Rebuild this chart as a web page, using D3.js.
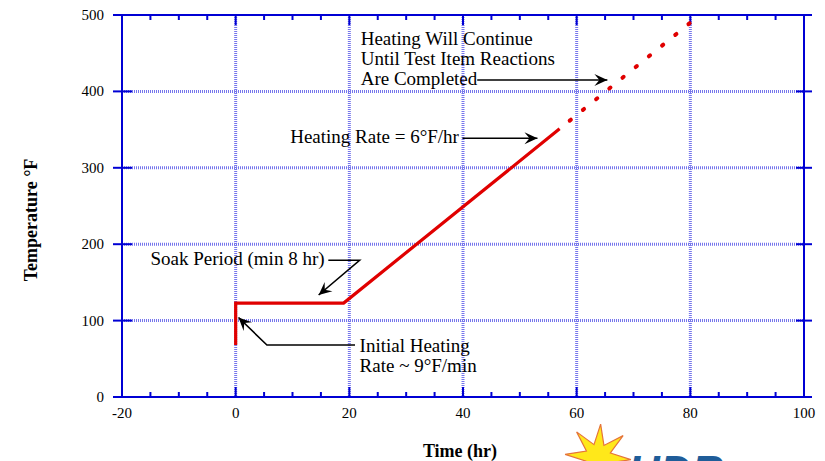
<!DOCTYPE html>
<html>
<head>
<meta charset="utf-8">
<script src="https://cdn.jsdelivr.net/npm/d3@7"></script>
<style>
  body { margin: 0; background: #fff; }
  svg { display: block; }
</style>
</head>
<body>
<div id="chart"></div>
<script>
// Heating profile (time in hr, temperature in °F)
const solidTime = [0, 0, 19, 57]
const solidTemp = [68, 123, 123, 351]
const dottedTime = [57, 80]
const dottedTemp = [351, 490]

const xTicks = [-20, 0, 20, 40, 60, 80, 100]
const xMinorTicks = d3.range(-20, 101, 5)
const yTicks = [0, 100, 200, 300, 400, 500]

// Callout text, anchored at (time, temp) of the first baseline
const noteLines = [
  ["Heating Will Continue", "Until Test Item Reactions", "Are Completed"],
  ["Heating Rate = 6°F/hr"],
  ["Soak Period (min 8 hr)"],
  ["Initial Heating", "Rate ~ 9°F/min"]
]
const noteTime = [22, 9.6, -15, 21.8]
const noteTemp = [460.7, 332.5, 172.8, 58.9]

// Arrow polylines (time, temp), last point is the arrow tip
const arrowTime = [[42.5, 65.4], [39.9, 53.1], [16.3, 21.8, 14.6], [21.0, 5.5, 0.5]]
const arrowTemp = [[415, 415], [338.6, 338.6], [179, 179, 133.5], [68, 68, 104]]

const width = 825
const height = 461
const margin = { top: 15, right: 21, bottom: 64, left: 122 }
const blue = "#0000d4"
const gridBlue = "#7676ec"
const red = "#e00000"
const serif = "'Liberation Serif', 'Times New Roman', serif"

const svg = d3.select("#chart")
  .append("svg")
  .attr("width", width)
  .attr("height", height)

const x = d3.scaleLinear()
  .domain([-20, 100])
  .range([margin.left, width - margin.right])

const y = d3.scaleLinear()
  .domain([0, 500])
  .range([height - margin.bottom, margin.top])

const [x0, x1] = x.range()
const [y0, y1] = y.range()

// Grid lines
svg.append("g")
  .selectAll("line")
  .data(xTicks.slice(1, -1))
  .join("line")
  .attr("x1", d => x(d))
  .attr("x2", d => x(d))
  .attr("y1", y1)
  .attr("y2", y0)
  .attr("stroke", gridBlue)
  .attr("stroke-width", 3)
  .attr("stroke-dasharray", "1,1")

svg.append("g")
  .selectAll("line")
  .data(yTicks.slice(1, -1))
  .join("line")
  .attr("x1", x0)
  .attr("x2", x1)
  .attr("y1", d => y(d))
  .attr("y2", d => y(d))
  .attr("stroke", gridBlue)
  .attr("stroke-width", 3)
  .attr("stroke-dasharray", "1,1")

// Frame
svg.append("rect")
  .attr("x", x0)
  .attr("y", y1)
  .attr("width", x1 - x0)
  .attr("height", y0 - y1)
  .attr("fill", "none")
  .attr("stroke", blue)
  .attr("stroke-width", 2)

// x ticks, inward from top and bottom
const ticks = svg.append("g").attr("stroke", blue).attr("stroke-width", 2)
xMinorTicks.forEach(t => {
  const len = xTicks.includes(t) ? 10 : 5
  ticks.append("line")
    .attr("x1", x(t)).attr("x2", x(t))
    .attr("y1", y0).attr("y2", y0 - len)
  ticks.append("line")
    .attr("x1", x(t)).attr("x2", x(t))
    .attr("y1", y1).attr("y2", y1 + len)
})

// y ticks cross the left and right frame
yTicks.forEach(v => {
  ticks.append("line")
    .attr("x1", x0 - 9).attr("x2", x0 + 10)
    .attr("y1", y(v)).attr("y2", y(v))
  ticks.append("line")
    .attr("x1", x1 - 8).attr("x2", x1 + 8)
    .attr("y1", y(v)).attr("y2", y(v))
})

// Tick labels
svg.append("g")
  .selectAll("text")
  .data(xTicks)
  .join("text")
  .attr("x", d => x(d))
  .attr("y", y0 + 21)
  .attr("text-anchor", "middle")
  .attr("font-family", serif)
  .attr("font-size", "15px")
  .text(d => d)

svg.append("g")
  .selectAll("text")
  .data(yTicks)
  .join("text")
  .attr("x", x0 - 18)
  .attr("y", d => y(d) + 5)
  .attr("text-anchor", "end")
  .attr("font-family", serif)
  .attr("font-size", "15px")
  .text(d => d)

// Axis titles
svg.append("text")
  .attr("x", 460)
  .attr("y", 457)
  .attr("text-anchor", "middle")
  .attr("font-family", serif)
  .attr("font-weight", "bold")
  .attr("font-size", "18px")
  .text("Time (hr)")

svg.append("text")
  .attr("transform", "translate(37,220) rotate(-90)")
  .attr("text-anchor", "middle")
  .attr("font-family", serif)
  .attr("font-weight", "bold")
  .attr("font-size", "18px")
  .text("Temperature °F")

// Heating profile
const line = d3.line()
  .x(d => x(d[0]))
  .y(d => y(d[1]))

svg.append("path")
  .datum(d3.zip(solidTime, solidTemp))
  .attr("fill", "none")
  .attr("stroke", red)
  .attr("stroke-width", 3.2)
  .attr("d", line)

svg.append("path")
  .datum(d3.zip(dottedTime, dottedTemp))
  .attr("fill", "none")
  .attr("stroke", red)
  .attr("stroke-width", 4)
  .attr("stroke-linecap", "round")
  .attr("stroke-dasharray", "1.5,15.5")
  .attr("stroke-dashoffset", -13)
  .attr("d", line)

// Arrowhead
svg.append("defs")
  .append("marker")
  .attr("id", "arrow")
  .attr("viewBox", "-14 -7 16 14")
  .attr("markerUnits", "userSpaceOnUse")
  .attr("markerWidth", 16)
  .attr("markerHeight", 14)
  .attr("orient", "auto")
  .append("path")
  .attr("d", "M0,0 L-13,-6 L-8,0 L-13,6 Z")
  .attr("fill", "#000")

arrowTime.forEach((ts, i) => {
  svg.append("path")
    .datum(d3.zip(ts, arrowTemp[i]))
    .attr("fill", "none")
    .attr("stroke", "#000")
    .attr("stroke-width", 1.6)
    .attr("marker-end", "url(#arrow)")
    .attr("d", line)
})

// Callout text
noteLines.forEach((lines, i) => {
  const t = svg.append("text")
    .attr("font-family", serif)
    .attr("font-size", "19px")
    .attr("fill", "#000")
  lines.forEach((s, j) => {
    t.append("tspan")
      .attr("x", x(noteTime[i]))
      .attr("y", y(noteTemp[i]) + j * 20)
      .text(s)
  })
})

// Logo, cut off by the bottom edge as in the original
const star = d3.range(16).map(k => {
  const r = k % 2 === 0 ? 33 : 13
  const a = -Math.PI / 2 + k * Math.PI / 8 + 0.08
  return [598 + r * Math.cos(a), 457 + r * Math.sin(a)]
})
svg.append("polygon")
  .attr("points", star.map(p => p.join(",")).join(" "))
  .attr("fill", "#ffe81a")
  .attr("stroke", "#e5743a")
  .attr("stroke-width", 1.2)

svg.append("text")
  .attr("x", 628)
  .attr("y", 487)
  .attr("font-family", "'Liberation Sans', Arial, sans-serif")
  .attr("font-weight", "bold")
  .attr("font-style", "italic")
  .attr("font-size", "44px")
  .attr("fill", "#1f5d99")
  .text("HDR")
</script>
</body>
</html>
